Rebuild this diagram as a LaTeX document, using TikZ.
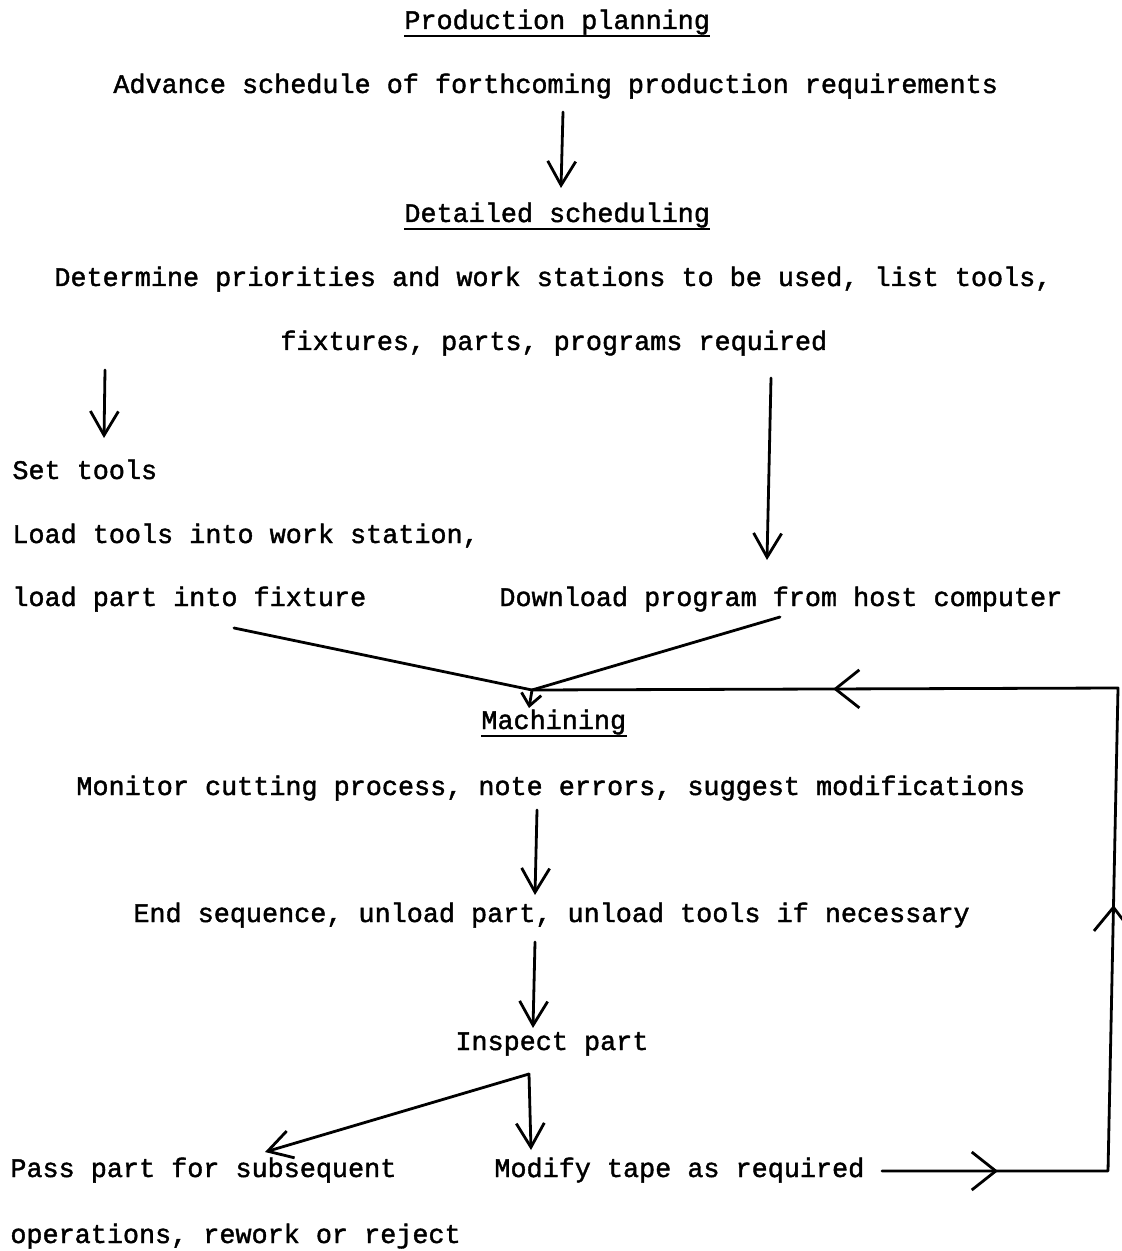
\documentclass[tikz,border=0pt]{standalone}
\usepackage{fontspec}
\setmainfont[FakeBold=1.5,AutoFakeBold=1.5]{Liberation Mono}
\usetikzlibrary{arrows.meta,decorations.markings}
\begin{document}
\begin{tikzpicture}[x=0.5pt,y=-0.5pt,
  txt/.style={anchor=base west,inner sep=0pt,font=\fontsize{13.4}{16}\selectfont\bfseries},
  conn/.style={line width=1.4pt,line cap=round,line join=round},
  arr/.style={conn,-{Straight Barb[length=12pt,width=14pt]}},
  smallarr/.style={conn,-{Straight Barb[length=6pt,width=10pt]}},
  ul/.style={line width=1pt},
  loophead/.tip={Straight Barb[length=12pt,width=19pt,line width=1.4pt]}]
\useasboundingbox (0,0) rectangle (1121,1251);
% texts
\node[txt] (pp) at (404,29) {Production planning};
\node[txt] (adv) at (113,93) {Advance schedule of forthcoming production requirements};
\node[txt] (ds) at (404,222) {Detailed scheduling};
\node[txt] (det) at (54,286) {Determine priorities and work stations to be used, list tools,};
\node[txt] (fix) at (280,350) {fixtures, parts, programs required};
\node[txt] (set) at (12,479) {Set tools};
\node[txt] (load) at (12,543) {Load tools into work station,};
\node[txt] (lpart) at (12,606) {load part into fixture};
\node[txt] (dl) at (499,606) {Download program from host computer};
\node[txt] (mach) at (481,729) {Machining};
\node[txt] (mon) at (76,795) {Monitor cutting process, note errors, suggest modifications};
\node[txt] (endseq) at (133,922) {End sequence, unload part, unload tools if necessary};
\node[txt] (insp) at (455,1050) {Inspect part};
\node[txt] (pass) at (10,1177) {Pass part for subsequent};
\node[txt] (ops) at (10,1243) {operations, rework or reject};
\node[txt] (mod) at (494,1177) {Modify tape as required};
% underlines
\foreach \n in {pp,ds,mach}
  \draw[ul] ([yshift=-3.5pt]\n.base west) -- ([yshift=-3.5pt]\n.base east);
% connector end points
\coordinate (a1s) at (563,112);  \coordinate (a1e) at (561,188);
\coordinate (a2s) at (105,370);  \coordinate (a2e) at (104,438);
\coordinate (a3s) at (771,378);  \coordinate (a3e) at (767,560);
\coordinate (jl) at (234,628);   \coordinate (jr) at (780,617);
\coordinate (jn) at (532,690);   \coordinate (mt) at (529,708);
\coordinate (a7s) at (537,810);  \coordinate (a7e) at (535,895);
\coordinate (a8s) at (535,942);  \coordinate (a8e) at (533,1028);
\coordinate (br) at (529,1074);
\coordinate (b1) at (531,1150);  \coordinate (b2) at (265,1152);
\coordinate (f0) at (882,1171);  \coordinate (f1) at (1108,1171);
\coordinate (f2) at (1118,688);
% connectors
\draw[arr] (a1s) -- (a1e);
\draw[arr] (a2s) -- (a2e);
\draw[arr] (a3s) -- (a3e);
\draw[conn] (jl) -- (jn);
\draw[conn] (jr) -- (jn);
\draw[smallarr] (jn) -- (mt);
\draw[arr] (a7s) -- (a7e);
\draw[arr] (a8s) -- (a8e);
\draw[arr] (br) -- (b1);
\draw[arr] (br) -- (b2);
\draw[conn,postaction={decorate},
  decoration={markings,
    mark=at position 58pt with {\arrow{loophead}},
    mark=at position 246pt with {\arrow{loophead}},
    mark=at position 497pt with {\arrow{loophead}}}]
  (f0) -- (f1) -- (f2) -- (jn);
\end{tikzpicture}
\end{document}
